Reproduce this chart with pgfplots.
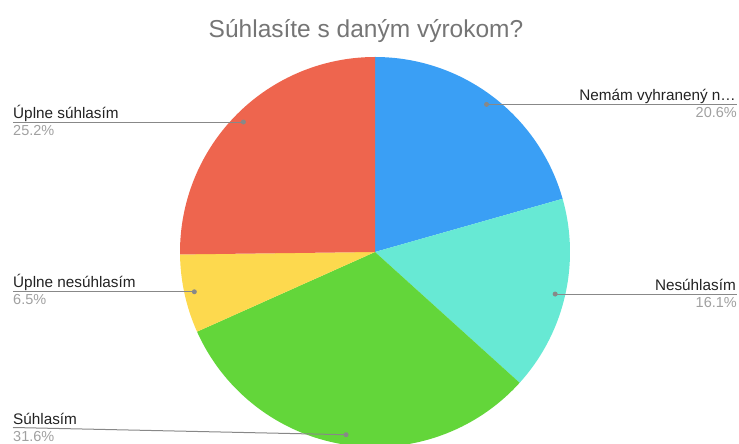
\documentclass[border=0pt]{standalone}
\usepackage{pgfplots}
\usepackage{pgfplotstable}
\pgfplotsset{compat=1.18}
\usepackage{fontspec}
\setmainfont{Liberation Sans}
\definecolor{cA}{HTML}{3A9FF5}
\definecolor{cB}{HTML}{67E9D4}
\definecolor{cC}{HTML}{63D63A}
\definecolor{cD}{HTML}{FDD94E}
\definecolor{cE}{HTML}{EE654E}
\definecolor{titlegray}{HTML}{757575}
\definecolor{labelc}{HTML}{222222}
\definecolor{pctc}{HTML}{A0A0A0}
\definecolor{leadc}{HTML}{888888}
\pgfplotstableread{
value
20.6
16.1
31.6
6.5
25.2
}\piedata
\pgfplotstablegetelem{0}{value}\of\piedata \let\vA\pgfplotsretval
\pgfplotstablegetelem{1}{value}\of\piedata \let\vB\pgfplotsretval
\pgfplotstablegetelem{2}{value}\of\piedata \let\vC\pgfplotsretval
\pgfplotstablegetelem{3}{value}\of\piedata \let\vD\pgfplotsretval
\pgfplotstablegetelem{4}{value}\of\piedata \let\vE\pgfplotsretval
\pgfmathsetmacro\aA{90}
\pgfmathsetmacro\aB{\aA-3.6*\vA}
\pgfmathsetmacro\aC{\aB-3.6*\vB}
\pgfmathsetmacro\aD{\aC-3.6*\vC}
\pgfmathsetmacro\aE{\aD-3.6*\vD}
\pgfmathsetmacro\aF{\aE-3.6*\vE}
\pgfmathsetmacro\mA{(\aA+\aB)/2}
\pgfmathsetmacro\mB{(\aB+\aC)/2}
\pgfmathsetmacro\mC{(\aC+\aD)/2}
\pgfmathsetmacro\mD{(\aD+\aE)/2}
\pgfmathsetmacro\mE{(\aE+\aF)/2}
\tikzset{lab/.style={font=\fontsize{15.3bp}{18bp}\selectfont, text=labelc, inner sep=0pt},
         pct/.style={font=\fontsize{14.5bp}{17bp}\selectfont, text=pctc, inner sep=0pt}}
\begin{document}%
\begin{tikzpicture}
\useasboundingbox (0,0) rectangle (739bp,444bp);
\begin{axis}[
  at={(0,0)}, anchor=south west,
  hide axis, scale only axis,
  width=739bp, height=444bp,
  xmin=0, xmax=739, ymin=0, ymax=444,
  clip=true,
]
% pie wedges (centre 375,192; radius 195)
\fill[cA] (axis cs:375,192) -- ++(\aA:195bp) arc[start angle=\aA, end angle=\aB, radius=195bp] -- cycle;
\fill[cB] (axis cs:375,192) -- ++(\aB:195bp) arc[start angle=\aB, end angle=\aC, radius=195bp] -- cycle;
\fill[cC] (axis cs:375,192) -- ++(\aC:195bp) arc[start angle=\aC, end angle=\aD, radius=195bp] -- cycle;
\fill[cD] (axis cs:375,192) -- ++(\aD:195bp) arc[start angle=\aD, end angle=\aE, radius=195bp] -- cycle;
\fill[cE] (axis cs:375,192) -- ++(\aE:195bp) arc[start angle=\aE, end angle=\aF, radius=195bp] -- cycle;
% leader lines
\draw[leadc, line width=1bp] (axis cs:{375+185*cos(\mA)},{192+185*sin(\mA)}) -- (axis cs:737,{192+185*sin(\mA)});
\draw[leadc, line width=1bp] (axis cs:{375+185*cos(\mB)},{192+185*sin(\mB)}) -- (axis cs:737,{192+185*sin(\mB)});
\draw[leadc, line width=1bp] (axis cs:{375+185*cos(\mC)},{192+185*sin(\mC)}) -- (axis cs:13,16.5);
\draw[leadc, line width=1bp] (axis cs:{375+185*cos(\mD)},{192+185*sin(\mD)}) -- (axis cs:13,{192+185*sin(\mD)});
\draw[leadc, line width=1bp] (axis cs:{375+185*cos(\mE)},{192+185*sin(\mE)}) -- (axis cs:13,{192+185*sin(\mE)});
\fill[leadc] (axis cs:{375+185*cos(\mA)},{192+185*sin(\mA)}) circle[radius=2.5bp];
\fill[leadc] (axis cs:{375+185*cos(\mB)},{192+185*sin(\mB)}) circle[radius=2.5bp];
\fill[leadc] (axis cs:{375+185*cos(\mC)},{192+185*sin(\mC)}) circle[radius=2.5bp];
\fill[leadc] (axis cs:{375+185*cos(\mD)},{192+185*sin(\mD)}) circle[radius=2.5bp];
\fill[leadc] (axis cs:{375+185*cos(\mE)},{192+185*sin(\mE)}) circle[radius=2.5bp];
% title
\node[anchor=base, font=\fontsize{24.5bp}{28bp}\selectfont, text=titlegray, inner sep=0pt] at (axis cs:366,406) {Súhlasíte s daným výrokom?};
% labels
\node[lab, anchor=base east] at (axis cs:736,343) {Nemám vyhranený n…};
\node[pct, anchor=base east] at (axis cs:737,326) {20.6\%};
\node[lab, anchor=base east] at (axis cs:736,153) {Nesúhlasím};
\node[pct, anchor=base east] at (axis cs:737,136) {16.1\%};
\node[lab, anchor=base west] at (axis cs:13,325) {Úplne súhlasím};
\node[pct, anchor=base west] at (axis cs:13,308) {25.2\%};
\node[lab, anchor=base west] at (axis cs:13,156) {Úplne nesúhlasím};
\node[pct, anchor=base west] at (axis cs:13,139) {6.5\%};
\node[lab, anchor=base west] at (axis cs:13,19.5) {Súhlasím};
\node[pct, anchor=base west] at (axis cs:13,2.5) {31.6\%};
\end{axis}
\end{tikzpicture}%
\end{document}
